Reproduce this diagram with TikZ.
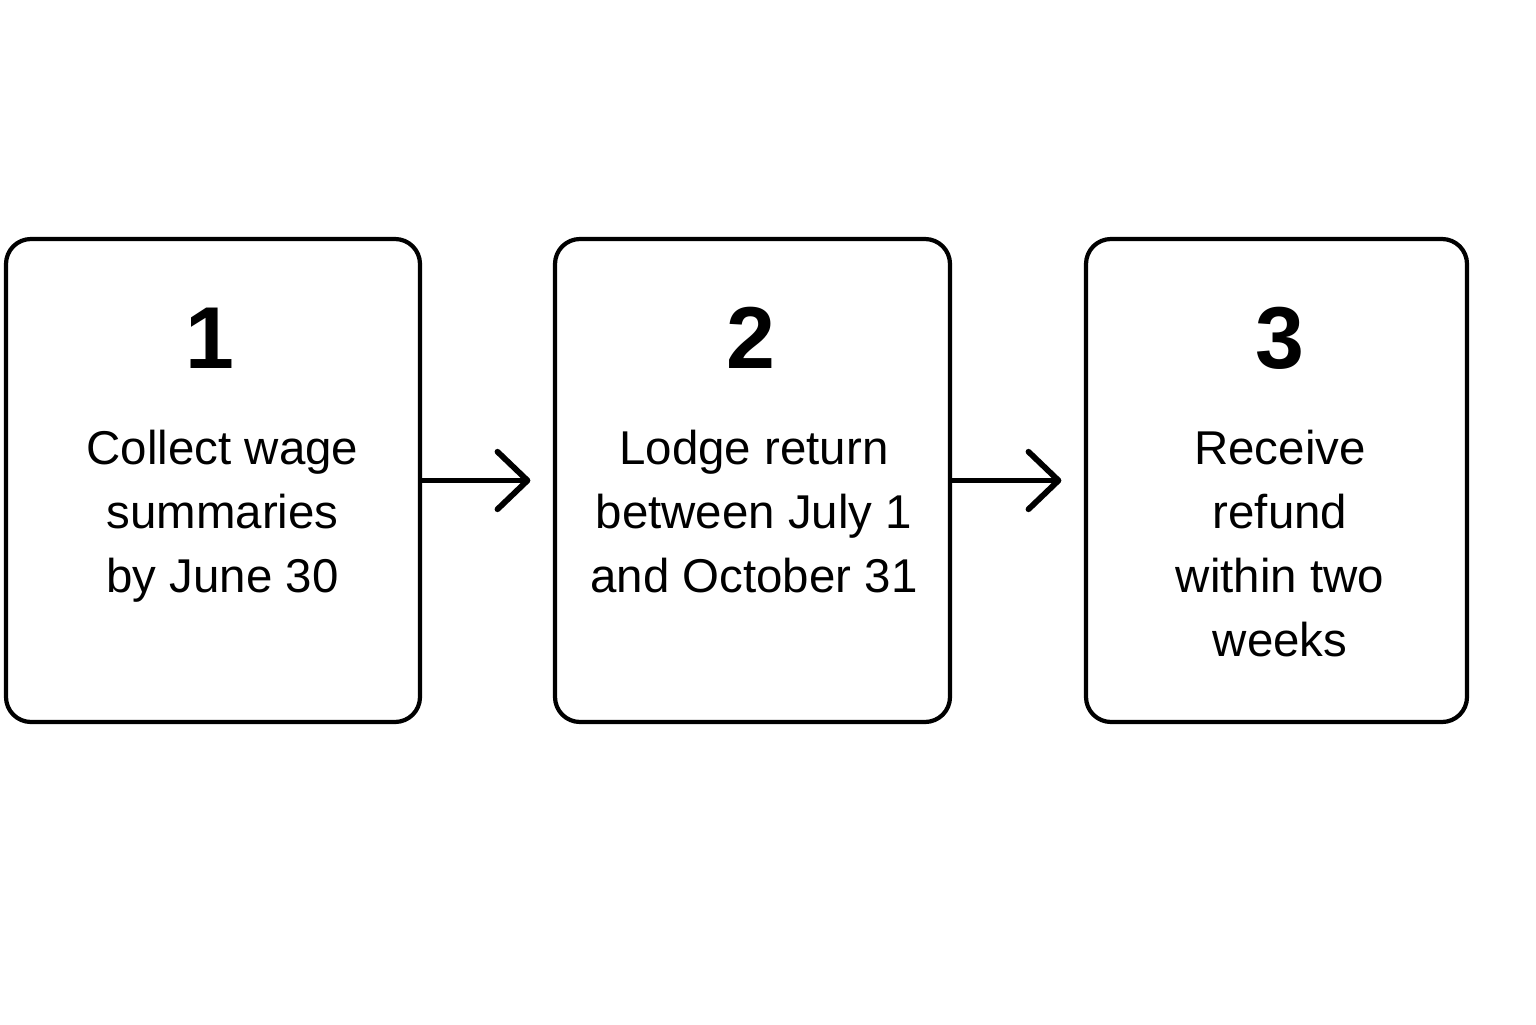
\documentclass[tikz,border=0pt]{standalone}
\usepackage{fontspec}
\setmainfont{Liberation Sans}
\usetikzlibrary{arrows.meta}

\begin{document}
\begin{tikzpicture}[
    paso/.style={draw, line width=2.4pt, rounded corners=0.5cm, minimum height=9.66cm, inner sep=0pt},
    numero/.style={font=\fontsize{50}{60}\selectfont\bfseries, anchor=base},
    texto/.style={font=\fontsize{27}{36.4}\selectfont, align=center, anchor=north, inner sep=0pt},
    flecha/.style={line width=3.3pt, -{Straight Barb[length=0.6cm, width=1.15cm, line width=3.3pt, round]}, shorten >=0.45cm}
]
    % Marco de la figura
    \useasboundingbox (0,0) rectangle (30.72,20.48);

    % Dibujar las cajas de los pasos
    \node[paso, minimum width=8.28cm] (paso1) at (4.26,10.87) {};
    \node[paso, minimum width=7.90cm] (paso2) at (15.05,10.87) {};
    \node[paso, minimum width=7.62cm] (paso3) at (25.53,10.87) {};

    % Numeros de cada paso
    \node[numero] (num1) at (4.20,13.12) {1};
    \node[numero] (num2) at (15.02,13.12) {2};
    \node[numero] (num3) at (25.60,13.12) {3};

    % Texto de cada paso
    \node[texto] (txt1) at (4.45,11.88) {Collect wage\\summaries\\by June 30};
    \node[texto] (txt2) at (15.08,11.88) {Lodge return\\between July 1\\and October 31};
    \node[texto] (txt3) at (25.60,11.88) {Receive\\refund\\within two\\weeks};

    % Flechas entre los pasos
    \draw[flecha] (paso1) -- (paso2);
    \draw[flecha] (paso2) -- (paso3);
\end{tikzpicture}
\end{document}
